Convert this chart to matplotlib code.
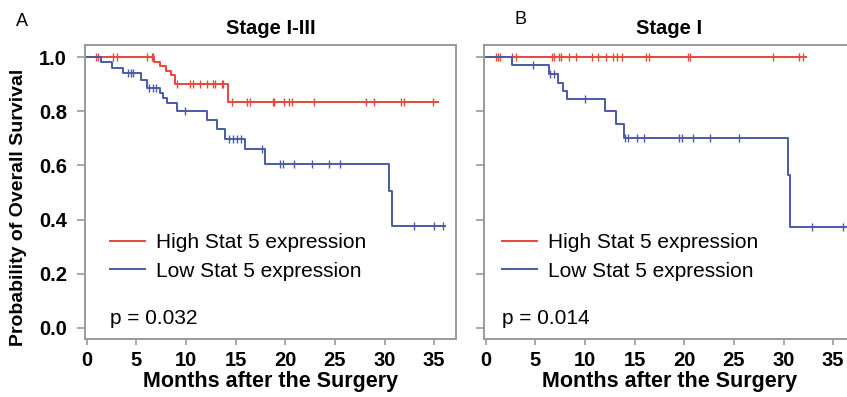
import numpy as np
import matplotlib.pyplot as plt

plt.rcParams['font.family'] = ['Liberation Sans', 'DejaVu Sans']

# ---- Stage I-III ----
a_high_t = [0, 6.78, 7.39, 7.98, 8.47, 8.9, 14.2]
a_high_s = [1.0, 0.983, 0.967, 0.95, 0.933, 0.90, 0.835]
a_high_cens = [0.94, 1.14, 2.65, 3.05, 6.08, 6.58, 6.68,
               9.07, 10.4, 10.7, 11.4, 12.1, 12.7, 12.9, 13.6, 13.7,
               14.6, 16.1, 16.5, 18.8, 18.9, 19.9, 20.4, 20.7, 22.9,
               28.1, 28.9, 31.7, 32.0, 34.9]
a_high_end = 35.4

a_low_t = [0, 1.41, 2.52, 3.63, 5.44, 6.05, 7.39, 7.66, 8.13, 9.07,
           12.1, 13.1, 13.9, 15.9, 18.0, 30.5, 30.8]
a_low_s = [1.0, 0.98, 0.961, 0.94, 0.915, 0.887, 0.868, 0.849, 0.829, 0.80,
           0.768, 0.733, 0.696, 0.659, 0.605, 0.505, 0.377]
a_low_cens = [4.2, 4.5, 4.7, 6.3, 6.7, 7.0, 9.9, 14.3, 14.7, 15.1, 15.5, 17.7,
              19.5, 19.8, 20.9, 22.7, 24.4, 25.5, 33.0, 35.0, 35.9]
a_low_end = 36.1

# ---- Stage I ----
b_high_t = [0]
b_high_s = [1.0]
b_high_cens = [1.06, 1.23, 1.49, 2.64, 3.07, 6.67, 6.88, 7.34, 7.61, 8.35,
               9.12, 10.7, 11.3, 12.1, 12.8, 13.2, 13.7, 16.1, 16.5, 20.4,
               20.6, 28.9, 31.6, 32.0]
b_high_end = 32.3

b_low_t = [0, 2.64, 6.37, 7.3, 7.8, 8.2, 12.05, 13.1, 13.9, 30.5, 30.7]
b_low_s = [1.0, 0.97, 0.936, 0.905, 0.875, 0.845, 0.80, 0.752, 0.70, 0.565, 0.374]
b_low_cens = [4.76, 6.5, 6.9, 9.96, 14.06, 14.3, 15.2, 15.9, 19.5, 19.8, 20.9,
              22.6, 25.5, 32.9, 36.0]
b_low_end = 36.3

titles = ['Stage I-III', 'Stage I']
pvals = ['p = 0.032', 'p = 0.014']
letters = ['A', 'B']
xticks = [0, 5, 10, 15, 20, 25, 30, 35]
yticks = [0.0, 0.2, 0.4, 0.6, 0.8, 1.0]
ytick_labels = ['0.0', '0.2', '0.4', '0.6', '0.8', '1.0']

red = '#e5473c'
blue = '#4b5aa6'
frame = '#9a9a9a'

W, H = 847, 397
fig = plt.figure(figsize=(W / 100, H / 100), dpi=100)
axA = fig.add_axes([85 / W, 1 - 339 / H, 371 / W, 294 / H])
axB = fig.add_axes([484 / W, 1 - 339 / H, 371 / W, 294 / H])


def km(ax, t, s, cens, end, color, label):
    t = np.array(t + [end])
    s = np.array(s + [s[-1]])
    ax.step(t, s, where='post', color=color, lw=1.4, label=label)
    cens = np.array(cens)
    idx = np.searchsorted(t, cens, side='right') - 1
    ax.plot(cens, s[idx], ls='none', marker='|', ms=5.5, mew=1.0, color=color)


km(axA, a_high_t, a_high_s, a_high_cens, a_high_end, red, 'High Stat 5 expression')
km(axA, a_low_t, a_low_s, a_low_cens, a_low_end, blue, 'Low Stat 5 expression')
km(axB, b_high_t, b_high_s, b_high_cens, b_high_end, red, 'High Stat 5 expression')
km(axB, b_low_t, b_low_s, b_low_cens, b_low_end, blue, 'Low Stat 5 expression')

leg_x = [0.067, 0.048]
for i, ax in enumerate([axA, axB]):
    ax.set_xlim(-0.17, 37.2)
    ax.set_ylim(-0.0406, 1.0443)
    ax.set_xticks(xticks, labels=[str(v) for v in xticks], fontweight='bold')
    ax.set_yticks(yticks)
    for sp in ax.spines.values():
        sp.set_color(frame)
        sp.set_linewidth(1.4)
    ax.tick_params(direction='out', width=1.2, color=frame, labelsize=14.5)
    ax.tick_params(axis='x', length=4, pad=5)
    ax.tick_params(axis='y', length=6, pad=7)
    ax.set_xlabel('Months after the Surgery', fontsize=15.5, fontweight='bold',
                  labelpad=0)
    ax.set_title(titles[i], fontsize=14.5, fontweight='bold', pad=8)
    ax.text(leg_x[i], 0.071, pvals[i], transform=ax.transAxes, fontsize=15,
            ha='left', va='center')
    ax.legend(loc='center left', bbox_to_anchor=(leg_x[i], 0.279), frameon=False,
              fontsize=15, handlelength=1.7, handletextpad=0.5,
              labelspacing=0.45, borderpad=0, borderaxespad=0)

axB.set_yticklabels([])
axA.set_yticklabels(ytick_labels, fontweight='bold')
axA.set_ylabel('Probability of Overall Survival', fontsize=14,
               fontweight='bold')
axA.yaxis.set_label_coords(-0.156, 0.449)

fig.text(22 / W, 1 - 22 / H, letters[0], fontsize=13, ha='center', va='center')
fig.text(520 / W, 1 - 20 / H, letters[1], fontsize=13, ha='center', va='center')

fig.savefig('out.png', dpi=100)
